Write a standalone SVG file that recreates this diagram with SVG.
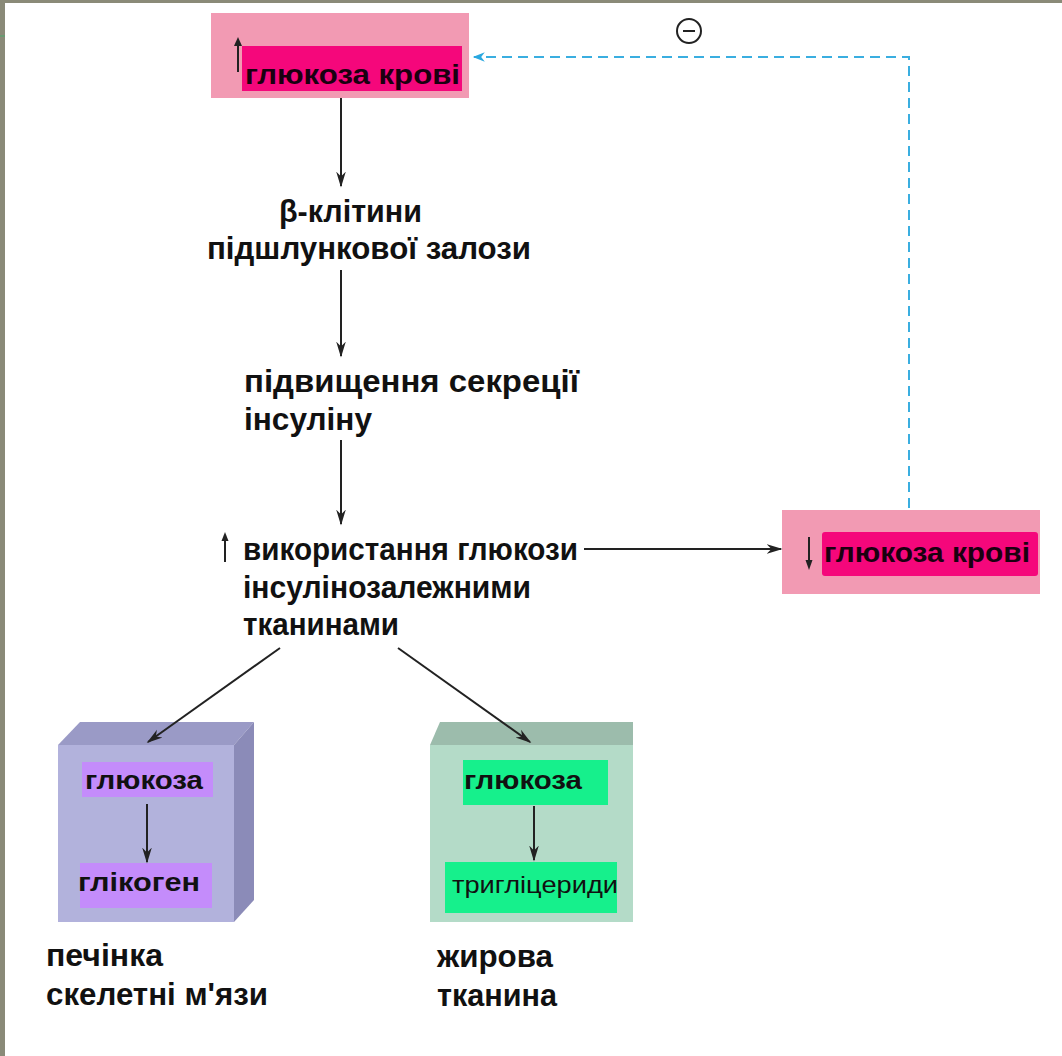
<svg xmlns="http://www.w3.org/2000/svg" width="1062" height="1056" viewBox="0 0 1062 1056">
  <defs>
    <style>
      .t { font-family: "Liberation Sans", Arial, sans-serif; font-weight: bold; fill: #111; }
      .big { font-size: 31px; }
      .box { font-size: 28px; fill: #1a0010; }
      .small { font-size: 25px; }
      .reg { font-family: "Liberation Sans", Arial, sans-serif; font-weight: normal; font-size: 23px; fill: #111; }
      .tick { stroke: #222; stroke-width: 2; fill: none; }
      .dash { stroke: #3aaee0; stroke-width: 2; fill: none; stroke-dasharray: 10 6; }
      .outer { fill: #f29ab3; }
      .inner { fill: #f5077b; }
    </style>
    <marker id="headS" viewBox="0 0 10 10" refX="9" refY="5" markerWidth="16" markerHeight="16" orient="auto" markerUnits="userSpaceOnUse">
      <path d="M0,2 L10,5 L0,8 L3,5 Z" fill="#222"/>
    </marker>
    <marker id="headB" viewBox="0 0 10 10" refX="9" refY="5" markerWidth="14" markerHeight="12" orient="auto" markerUnits="userSpaceOnUse">
      <path d="M0,1 L10,5 L0,9 L3,5 Z" fill="#2aa8e0"/>
    </marker>
  </defs>

  <!-- page frame -->
  <rect x="0" y="0" width="1062" height="1056" fill="#ffffff"/>
  <rect x="0" y="0" width="5" height="1056" fill="#8a8a78"/>
  <rect x="0" y="0" width="1062" height="3" fill="#8a8a78"/>
  <rect x="0" y="35" width="5" height="2" fill="#6a9a72"/>

  <!-- inhibition sign -->
  <g id="minus">
    <circle cx="689" cy="31" r="12" fill="#fff" stroke="#222" stroke-width="2"/>
    <line x1="683" y1="31" x2="695" y2="31" stroke="#222" stroke-width="2"/>
  </g>

  <!-- blood glucose (high) -->
  <g id="glucose-high">
    <rect class="outer" x="211" y="13" width="258" height="85"/>
    <rect class="inner" x="242" y="46" width="220" height="45"/>
    <line class="tick" x1="238" y1="72" x2="238" y2="42"/>
    <path d="M234,46 L238,37 L242,46 Z" fill="#222"/>
    <text class="t box" x="245" y="84" textLength="215" lengthAdjust="spacingAndGlyphs">глюкоза крові</text>
  </g>

  <!-- beta cells -->
  <g id="beta-cells">
    <text class="t big" x="279" y="222" textLength="143" lengthAdjust="spacingAndGlyphs">β-клітини</text>
    <text class="t big" x="207" y="259" textLength="324" lengthAdjust="spacingAndGlyphs">підшлункової залози</text>
  </g>

  <!-- insulin secretion -->
  <g id="insulin">
    <text class="t big" x="244" y="392" textLength="335" lengthAdjust="spacingAndGlyphs">підвищення секреції</text>
    <text class="t big" x="244" y="430" textLength="128" lengthAdjust="spacingAndGlyphs">інсуліну</text>
  </g>

  <!-- glucose utilisation -->
  <g id="utilisation">
    <line class="tick" x1="225" y1="562" x2="225" y2="538"/>
    <path d="M221.5,541 L225,532 L228.5,541 Z" fill="#222"/>
    <text class="t big" x="243" y="560" textLength="335" lengthAdjust="spacingAndGlyphs">використання глюкози</text>
    <text class="t big" x="243" y="598" textLength="288" lengthAdjust="spacingAndGlyphs">інсулінозалежними</text>
    <text class="t big" x="243" y="635" textLength="156" lengthAdjust="spacingAndGlyphs">тканинами</text>
  </g>

  <!-- blood glucose (low) -->
  <g id="glucose-low">
    <rect class="outer" x="782" y="510" width="258" height="84"/>
    <rect class="inner" x="822" y="532" width="216" height="44" rx="3"/>
    <line class="tick" x1="809" y1="537" x2="809" y2="563"/>
    <path d="M805.5,560 L809,570 L812.5,560 Z" fill="#222"/>
    <text class="t box" x="824" y="562" textLength="206" lengthAdjust="spacingAndGlyphs">глюкоза крові</text>
  </g>

  <!-- liver / skeletal muscle -->
  <g id="liver-muscle">
    <polygon points="58,745 80,722 254,722 234,745" fill="#9a9ac6"/>
    <polygon points="234,745 254,722 254,900 234,922" fill="#8b8bb8"/>
    <rect x="58" y="745" width="176" height="177" fill="#b2b2dc"/>
    <rect x="82" y="762" width="131" height="35" fill="#c48cfb"/>
    <text class="t small" x="85" y="789" textLength="118" lengthAdjust="spacingAndGlyphs">глюкоза</text>
    <rect x="80" y="863" width="132" height="45" fill="#c48cfb"/>
    <text class="t small" x="78" y="891" textLength="122" lengthAdjust="spacingAndGlyphs">глікоген</text>
    <text class="t big" x="46" y="966" textLength="117" lengthAdjust="spacingAndGlyphs">печінка</text>
    <text class="t big" x="46" y="1005" textLength="222" lengthAdjust="spacingAndGlyphs">скелетні м'язи</text>
  </g>

  <!-- adipose tissue -->
  <g id="adipose">
    <polygon points="430,745 440,722 633,722 633,745" fill="#9cbcac"/>
    <rect x="430" y="745" width="203" height="177" fill="#b4dbc8"/>
    <rect x="463" y="760" width="145" height="45" fill="#16f08c"/>
    <text class="t small" x="464" y="789" textLength="118" lengthAdjust="spacingAndGlyphs">глюкоза</text>
    <rect x="445" y="862" width="172" height="51" fill="#16f08c"/>
    <text class="reg" x="452" y="893" textLength="166" lengthAdjust="spacingAndGlyphs">тригліцериди</text>
    <text class="t big" x="437" y="967" textLength="116" lengthAdjust="spacingAndGlyphs">жирова</text>
    <text class="t big" x="437" y="1006" textLength="120" lengthAdjust="spacingAndGlyphs">тканина</text>
  </g>

  <!-- connectors, drawn over the boxes -->
  <g id="connectors" stroke="#222" stroke-width="2" fill="none">
    <line x1="341" y1="98" x2="341" y2="186" marker-end="url(#headS)"/>
    <line x1="341" y1="270" x2="341" y2="356" marker-end="url(#headS)"/>
    <line x1="341" y1="440" x2="341" y2="524" marker-end="url(#headS)"/>
    <line x1="584" y1="549" x2="781" y2="549" marker-end="url(#headS)"/>
    <line x1="280" y1="648" x2="148" y2="742" marker-end="url(#headS)"/>
    <line x1="398" y1="648" x2="530" y2="742" marker-end="url(#headS)"/>
    <line x1="147" y1="804" x2="147" y2="862" marker-end="url(#headS)"/>
    <line x1="534" y1="806" x2="534" y2="860" marker-end="url(#headS)"/>
    <!-- negative feedback loop -->
    <path class="dash" d="M909,508 L909,57 L474,57" marker-end="url(#headB)"/>
  </g>
</svg>
